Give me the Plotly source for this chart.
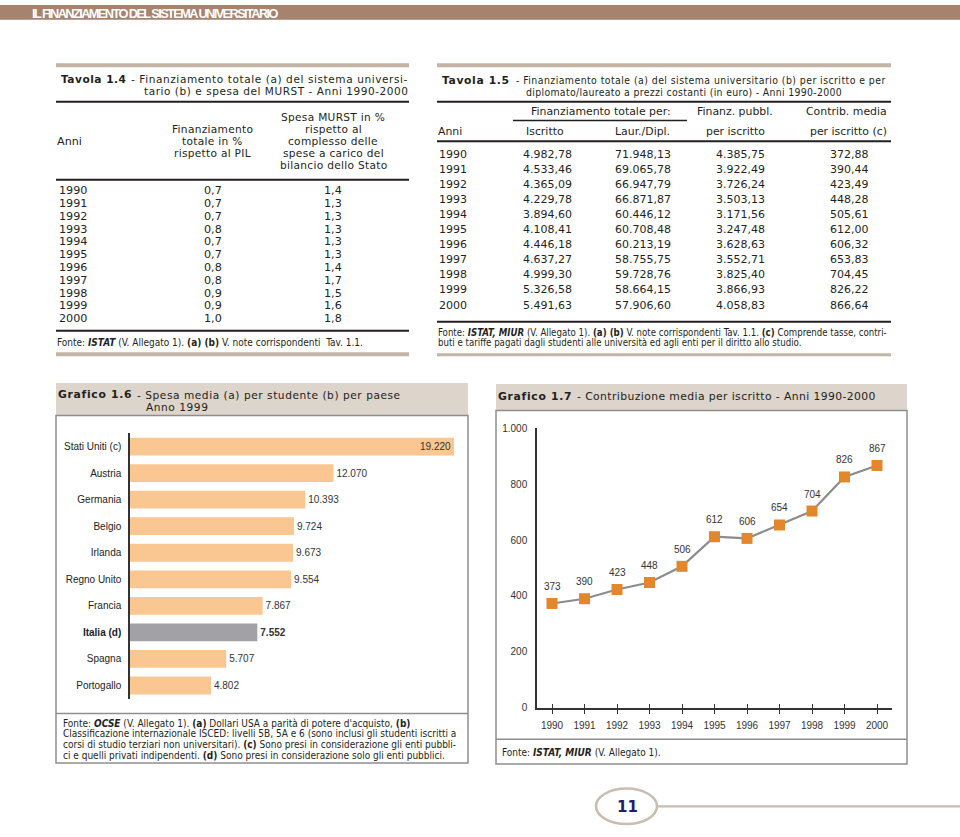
import plotly.graph_objects as go

W, H = 960, 837

# ---------------- DATA ----------------
anni = [1990, 1991, 1992, 1993, 1994, 1995, 1996, 1997, 1998, 1999, 2000]
fin_pil = [0.7, 0.7, 0.7, 0.8, 0.7, 0.7, 0.8, 0.8, 0.9, 0.9, 1.0]
spesa_murst = [1.4, 1.3, 1.3, 1.3, 1.3, 1.3, 1.4, 1.7, 1.5, 1.6, 1.8]
iscritto = [4982.78, 4533.46, 4365.09, 4229.78, 3894.60, 4108.41, 4446.18, 4637.27, 4999.30, 5326.58, 5491.63]
laur_dipl = [71948.13, 69065.78, 66947.79, 66871.87, 60446.12, 60708.48, 60213.19, 58755.75, 59728.76, 58664.15, 57906.60]
finanz_pubbl = [4385.75, 3922.49, 3726.24, 3503.13, 3171.56, 3247.48, 3628.63, 3552.71, 3825.40, 3866.93, 4058.83]
contrib_media = [372.88, 390.44, 423.49, 448.28, 505.61, 612.00, 606.32, 653.83, 704.45, 826.22, 866.64]

paesi = ["Stati Uniti (c)", "Austria", "Germania", "Belgio", "Irlanda",
         "Regno Unito", "Francia", "Italia (d)", "Spagna", "Portogallo"]
spesa_studente = [19220, 12070, 10393, 9724, 9673, 9554, 7867, 7552, 5707, 4802]

# ---------------- STYLE ----------------
DJ = "DejaVu Sans"
DJC = "DejaVu Sans Condensed"
AR = "Liberation Sans"
TXT = "#231f20"
BROWN = "#a6836e"
BAR_BROWN = "#c4b4a6"
BEIGE = "#ddd4cb"
BOXC = "#8e8e8e"
ORANGE_L = "#fac691"
GRAY_B = "#a2a2a6"
ORANGE = "#e3872d"


def it(v, dec):
    s = f"{v:,.{dec}f}"
    return s.replace(",", "#").replace(".", ",").replace("#", ".")


ann = []
shapes = []


def spaced(t, ls):
    return f'<span style="letter-spacing:{ls}px">{t}</span>'


def T(x, y, text, size=11, anchor="left", family=DJ, color=TXT, ls=None):
    if ls is not None:
        text = spaced(text, ls)
    ann.append(dict(x=x / W, y=1 - y / H, xref="paper", yref="paper", text=text,
                    showarrow=False, xanchor=anchor, yanchor="middle", borderpad=0,
                    font=dict(size=size, family=family, color=color)))


def R(x0, y0, x1, y1, fill=None, line=None, lw=1):
    shapes.append(dict(type="rect", xref="paper", yref="paper",
                       x0=x0 / W, x1=x1 / W, y0=1 - y0 / H, y1=1 - y1 / H,
                       fillcolor=fill if fill else "rgba(0,0,0,0)",
                       line=dict(color=line if line else "rgba(0,0,0,0)", width=lw if line else 0),
                       layer="below"))


def L(x0, y0, x1, y1, color=TXT, lw=2):
    shapes.append(dict(type="line", xref="paper", yref="paper",
                       x0=x0 / W, x1=x1 / W, y0=1 - y0 / H, y1=1 - y1 / H,
                       line=dict(color=color, width=lw)))


# ---------------- PAGE HEADER ----------------
R(0, 0, W, 15, fill=BROWN)
T(31, 9, "<b>" + spaced("IL FINANZIAMENTO DEL SISTEMA UNIVERSITARIO", -1.6) + "</b>",
  size=12.8, family=AR, color="white")

# ---------------- TAVOLA 1.4 ----------------
R(56, 59, 409, 63, fill=BAR_BROWN)
T(60, 75, "<b>" + spaced("Tavola 1.4", 0.5) + "</b>", size=10.6)
T(130, 75, "- Finanziamento totale (a) del sistema universi-", size=10.5, ls=0.6)
T(143, 87, "tario (b) e spesa del MURST - Anni 1990-2000", size=10.5, ls=0.55)
L(56, 98, 409, 98)
T(56, 138, "Anni", size=11.2)
for i, t in enumerate(["Finanziamento", "totale in %", "rispetto al PIL"]):
    T(212, 126 + 12 * i, t, size=10.6, anchor="center", ls=0.3)
for i, t in enumerate(["Spesa MURST in %", "rispetto al", "complesso delle",
                       "spese a carico del", "bilancio dello Stato"]):
    T(333, 113.5 + 12.2 * i, t, size=10.6, anchor="center", ls=0.3)
L(56, 177, 409, 177)
for i, a in enumerate(anni):
    y = 188 + 13 * i
    T(58, y, str(a), size=11.2)
    T(213, y, it(fin_pil[i], 1), size=11.2, anchor="center")
    T(333, y, it(spesa_murst[i], 1), size=11.2, anchor="center")
L(56, 330, 409, 330)
T(56, 342, "Fonte: <b><i>ISTAT</i></b> (V. Allegato 1). <b>(a) (b)</b> V. note corrispondenti  Tav. 1.1.",
  size=10, family=DJC)
R(56, 352, 409, 356, fill=BAR_BROWN)

# ---------------- TAVOLA 1.5 ----------------
R(437, 59, 891, 63, fill=BAR_BROWN)
T(441, 76, "<b>" + spaced("Tavola 1.5", 0.6) + "</b>", size=10.8)
T(515, 76, "- Finanziamento totale (a) del sistema universitario (b) per iscritto e per",
  size=10.4, family=DJC, ls=0.45)
T(525, 88, "diplomato/laureato a prezzi costanti (in euro) - Anni 1990-2000",
  size=10.4, family=DJC, ls=0.33)
L(437, 98, 891, 98)
T(601, 108, "Finanziamento totale per:", size=10.9, anchor="center")
L(513, 117, 687, 117, lw=1.5)
T(735, 108, "Finanz. pubbl.", size=10.9, anchor="center")
T(846, 108, "Contrib. media", size=10.9, anchor="center")
T(437, 128, "Anni", size=10.9)
T(545, 128, "Iscritto", size=10.9, anchor="center")
T(642, 128, "Laur./Dipl.", size=10.9, anchor="center")
T(735, 128, "per iscritto", size=10.9, anchor="center")
T(848, 128, "per iscritto (c)", size=10.9, anchor="center")
L(437, 138, 891, 138)
for i, a in enumerate(anni):
    y = 151 + 15.3 * i
    T(438, y, str(a), size=11)
    T(547, y, it(iscritto[i], 2), size=11, anchor="center")
    T(643, y, it(laur_dipl[i], 2), size=11, anchor="center")
    T(740, y, it(finanz_pubbl[i], 2), size=11, anchor="center")
    T(849, y, it(contrib_media[i], 2), size=11, anchor="center")
L(437, 321, 891, 321)
T(437, 332, "Fonte: <b><i>ISTAT, MIUR</i></b> (V. Allegato 1). <b>(a) (b)</b> V. note corrispondenti Tav. 1.1. "
            "<b>(c)</b> Comprende tasse, contri-", size=9.6, family=DJC)
T(437, 342, "buti e tariffe pagati dagli studenti alle università ed agli enti per il diritto allo studio.",
  size=9.6, family=DJC)
R(437, 353, 891, 356, fill=BAR_BROWN)

# ---------------- GRAFICO 1.6 frame ----------------
R(56, 383, 468, 416, fill=BEIGE)
R(56, 416, 468, 768, line=BOXC, lw=1.5)
L(56, 718, 468, 718, color=BOXC, lw=1.5)
T(57, 395, "<b>" + spaced("Grafico 1.6", 0.7) + "</b>", size=10.8)
T(136, 395, "- Spesa media (a) per studente (b) per paese", size=10.6, ls=0.55)
T(145, 407.5, "Anno 1999", size=10.6, ls=0.55)
fonte16 = [
    "Fonte: <b><i>OCSE</i></b> (V. Allegato 1). <b>(a)</b> Dollari USA a parità di potere d'acquisto, <b>(b)</b>",
    "Classificazione internazionale ISCED: livelli 5B, 5A e 6 (sono inclusi gli studenti iscritti a",
    "corsi di studio terziari non universitari). <b>(c)</b> Sono presi in considerazione gli enti pubbli-",
    "ci e quelli privati indipendenti. <b>(d)</b> Sono presi in considerazione solo gli enti pubblici.",
]
for i, t in enumerate(fonte16):
    T(62, 728 + 10.7 * i, t, size=10, family=DJC)

# ---------------- GRAFICO 1.7 frame ----------------
R(496, 384, 907, 411, fill=BEIGE)
R(496, 411, 907, 769, line=BOXC, lw=1.5)
L(496, 744, 907, 744, color=BOXC, lw=1.5)
T(497, 397, "<b>" + spaced("Grafico 1.7", 0.7) + "</b>", size=10.8)
T(576, 397, "- Contribuzione media per iscritto - Anni 1990-2000", size=10.8, ls=0.4)
T(501, 757, "Fonte: <b><i>ISTAT, MIUR</i></b> (V. Allegato 1).", size=10, family=DJC)

# ---------------- PAGE NUMBER ----------------
shapes.append(dict(type="circle", xref="paper", yref="paper",
                   x0=596 / W, x1=657 / W, y0=1 - 794 / H, y1=1 - 830 / H,
                   line=dict(color="#c9bcb0", width=2.5), fillcolor="white"))
L(657, 812, 960, 812, color="#c9bcb0", lw=2.2)
T(627, 812.5, "<b>11</b>", size=15, anchor="center", family=DJ, color="#1f1d6b")

# ---------------- CHART 1.6 : bars ----------------
fig = go.Figure()
bar_colors = [GRAY_B if p.startswith("Italia") else ORANGE_L for p in paesi]
bar_text = [("<b>%s</b>" % it(v, 0)) if p.startswith("Italia") else it(v, 0)
            for p, v in zip(paesi, spesa_studente)]
bar_pos = ["inside" if v == max(spesa_studente) else "outside" for v in spesa_studente]
fig.add_trace(go.Bar(
    x=spesa_studente, y=paesi, orientation="h",
    marker=dict(color=bar_colors, line=dict(width=0)),
    text=bar_text, textposition=bar_pos, insidetextanchor="end",
    textfont=dict(family=AR, size=10, color="#333333"),
    cliponaxis=False, hoverinfo="skip", xaxis="x", yaxis="y",
))

# ---------------- CHART 1.7 : line ----------------
contrib_round = [round(v) for v in contrib_media]
fig.add_trace(go.Scatter(
    x=anni, y=contrib_round, mode="lines+markers",
    line=dict(color="#8c8c8c", width=2.2),
    marker=dict(symbol="square", size=11, color=ORANGE),
    cliponaxis=False, hoverinfo="skip", xaxis="x2", yaxis="y2",
))
fig.add_trace(go.Scatter(x=[], y=[], xaxis="x3", yaxis="y2", hoverinfo="skip"))
for a, v in zip(anni, contrib_round):
    ann.append(dict(x=a, y=v, xref="x2", yref="y2", text=str(v), showarrow=False,
                    yshift=17, xanchor="center", yanchor="middle",
                    font=dict(family=AR, size=10, color="#333333")))

yr_pad = 15 / 32.5
fig.update_layout(
    width=W, height=H, autosize=False,
    margin=dict(l=0, r=0, t=0, b=0, pad=0),
    paper_bgcolor="white", plot_bgcolor="rgba(0,0,0,0)",
    showlegend=False, separators=",.", bargap=0.33,
    xaxis=dict(domain=[130 / W, 454 / W], range=[0, max(spesa_studente)], visible=False,
               fixedrange=True),
    yaxis=dict(domain=[1 - 703 / H, 1 - 434 / H], anchor="x", autorange="reversed",
               type="category", categoryarray=paesi, categoryorder="array",
               showline=True, linecolor="#333333", linewidth=1.5, ticks="",
               showgrid=False, zeroline=False, ticklabelstandoff=5,
               tickvals=paesi,
               ticktext=[("<b>%s</b>" % p) if p.startswith("Italia") else p for p in paesi],
               tickfont=dict(family=AR, size=10, color="#222222")),
    xaxis2=dict(domain=[537 / W, 892 / W], range=[anni[0] - yr_pad, anni[-1] + yr_pad],
                anchor="y2", showline=True, linecolor="#333333", linewidth=1.5,
                ticks="outside", ticklen=5, tickwidth=1.2, tickcolor="#333333",
                tickvals=anni, showgrid=False, zeroline=False, ticklabelstandoff=3,
                tickfont=dict(family=AR, size=10, color="#333333")),
    xaxis3=dict(domain=[537 / W, 892 / W], range=[anni[0] - yr_pad, anni[-1] + yr_pad],
                anchor="y2", overlaying="x2", showline=False,
                ticks="inside", ticklen=4, tickwidth=1.2, tickcolor="#333333",
                tickvals=anni, showticklabels=False, showgrid=False, zeroline=False),
    yaxis2=dict(domain=[1 - 712 / H, 1 - 429 / H], range=[0, 1000], anchor="x2",
                showline=True, linecolor="#333333", linewidth=1.5, ticks="",
                tickvals=[0, 200, 400, 600, 800, 1000], separatethousands=True,
                showgrid=False, zeroline=False, ticklabelstandoff=6,
                tickfont=dict(family=AR, size=10, color="#333333")),
    annotations=ann, shapes=shapes,
)

fig.write_html(
    "out.html",
    config={"displayModeBar": False},
    post_script=("document.body.style.margin='0';document.body.style.padding='0';"
                 "document.body.style.overflow='hidden';"
                 "var gd=document.getElementById('{plot_id}');"
                 "gd.style.position='fixed';gd.style.left='0px';gd.style.top='0px';"),
)
